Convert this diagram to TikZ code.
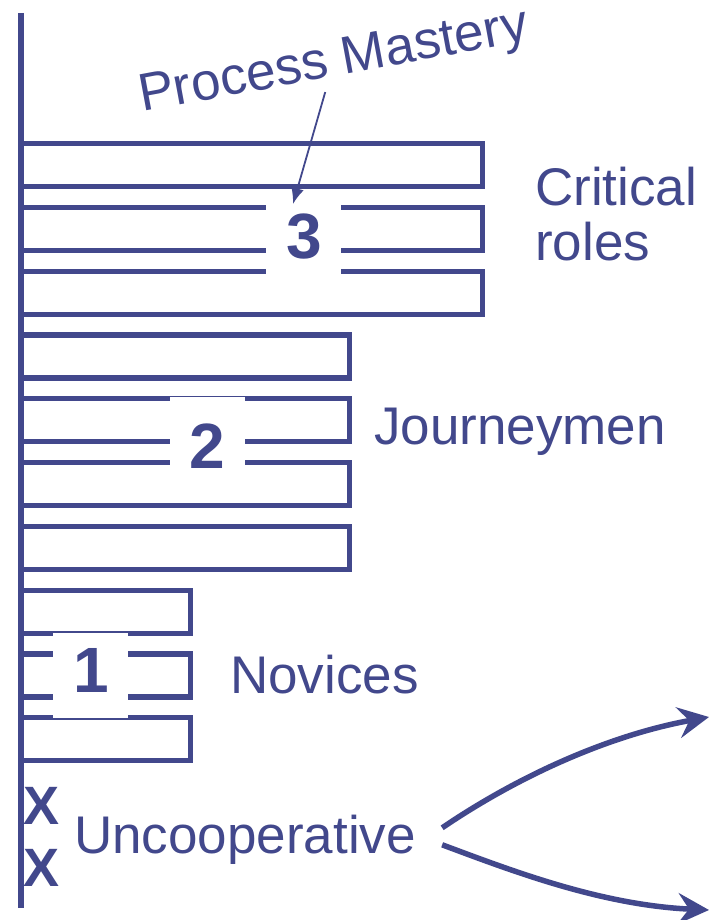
\documentclass[tikz,border=0pt]{standalone}
\usepackage{fontspec}
\setmainfont{Liberation Sans}
\usepackage{tikz}
\usetikzlibrary{arrows.meta}
\definecolor{ink}{RGB}{66,72,140}
\tikzstyle{rung}=[draw=ink, line width=5.2pt]
\tikzstyle{cutout}=[fill=white, inner sep=0pt, minimum width=75pt, minimum height=85pt]
\tikzstyle{num}=[text=ink, font=\fontsize{64}{64}\selectfont\bfseries, inner sep=0pt]
\tikzstyle{lbl}=[text=ink, font=\fontsize{53}{56}\selectfont, inner sep=0pt]
\tikzstyle{cross}=[text=ink, font=\fontsize{54}{54}\selectfont\bfseries, inner sep=0pt]
\tikzstyle{branch}=[draw=ink, line width=5.5pt, -{Stealth[length=31pt,width=31pt,inset=11pt]}]
\tikzstyle{pointer}=[draw=ink, line width=1.8pt, -{Latex[length=16pt,width=13pt]}]

\begin{document}
\begin{tikzpicture}[x=1pt,y=-1pt]
    \useasboundingbox (0,0) rectangle (711,920);
    % ladder
    \foreach \i/\r in {0/482.5,1/482.5,2/482.5,3/349.5,4/349.5,5/349.5,6/349.5,7/190.5,8/190.5,9/190.5}
        \draw[rung] (21,143.5+63.8*\i) rectangle (\r,186.5+63.8*\i);
    \draw[rung] (21,13) -- (21,908);
    % levels
    \node[cutout] (p3) at (303.5,231) {};
    \node[cutout] (p2) at (207.5,439.5) {};
    \node[cutout] (p1) at (90.5,675) {};
    \node[num] (n3) at (304,237) {3};
    \node[num] (n2) at (207,446) {2};
    \node[num] (n1) at (91,670) {1};
    % labels
    \node[lbl, anchor=base west] (crit) at (535,205) {Critical};
    \node[lbl, anchor=base west] (roles) at (535,260) {roles};
    \node[lbl, anchor=base west] (journ) at (374,444) {Journeymen};
    \node[lbl, anchor=base west] (nov) at (230,693) {Novices};
    \node[lbl, anchor=base west] (unc) at (74,853) {Uncooperative};
    \node[lbl, anchor=base west, rotate=10.5] (pm) at (142,112) {Process Mastery};
    \node[cross] (x1) at (42,806) {X};
    \node[cross] (x2) at (42,868) {X};
    % arrows
    \coordinate (tip) at (293,204);
    \coordinate (upend) at (709,717);
    \coordinate (downend) at (709,910);
    \draw[pointer] ([xshift=-13pt,yshift=-5pt]pm.south) -- (tip);
    \draw[branch] ([shift={(26,-11.5)}]unc.east) .. controls (520,775) and (610,735) .. (upend);
    \draw[branch] ([shift={(26,5.5)}]unc.east) .. controls (510,870) and (600,905) .. (downend);
\end{tikzpicture}
\end{document}
